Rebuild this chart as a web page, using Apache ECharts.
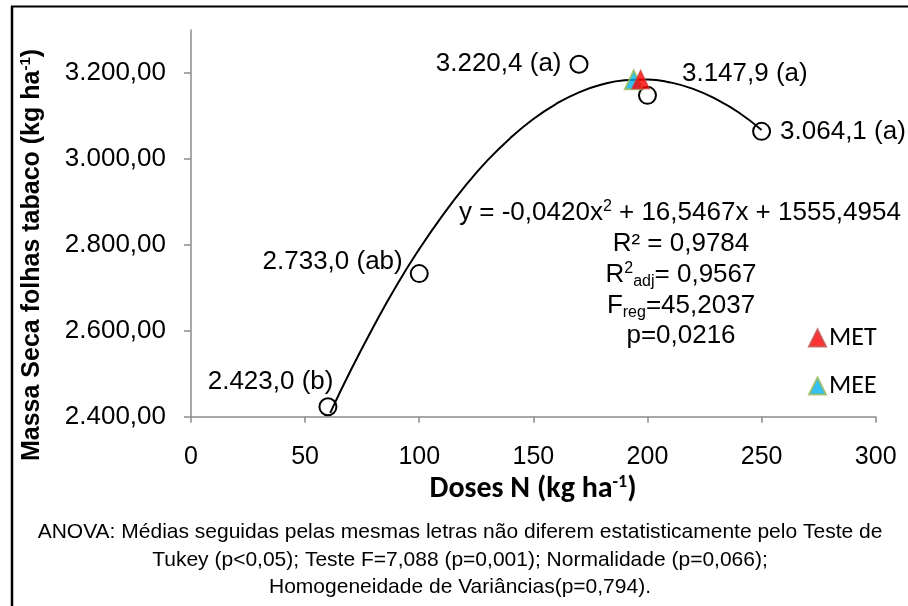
<!DOCTYPE html>
<html>
<head>
<meta charset="utf-8">
<script src="https://cdn.jsdelivr.net/npm/echarts@6/dist/echarts.min.js"></script>
<style>
  html, body { margin: 0; padding: 0; background: #fff; }
  #chart { width: 908px; height: 606px; }
</style>
</head>
<body>
<div id="chart"></div>
<script>
// ---- data ----
const doses   = [60, 100, 170, 200, 250];
const means   = [2423.0, 2733.0, 3220.4, 3147.9, 3064.1];
const letters = ['b', 'ab', 'a', 'a', 'a'];
// fitted quadratic trend curve
const fitX = [61, 70, 80, 90, 100, 110, 120, 130, 140, 150, 160, 170, 180, 190, 200, 210, 220, 230, 240, 250];
const fitY = [2409, 2508, 2610, 2705, 2790, 2867, 2936, 2997, 3049, 3093, 3128, 3155, 3173, 3183, 3185, 3178, 3163, 3139, 3108, 3067];
const metPoint = [197, 3185];
const meePoint = [194, 3184];
const xTicks = [0, 50, 100, 150, 200, 250, 300];
const yTicks = [2400, 2600, 2800, 3000, 3200];
const seriesNames = ['MET', 'MEE'];

function fmtBR(v, d) {
  const s = Math.abs(v).toFixed(d).split('.');
  const intPart = s[0].replace(/\B(?=(\d{3})+(?!\d))/g, '.');
  return (v < 0 ? '-' : '') + intPart + (d > 0 ? ',' + s[1] : '');
}

// label placement for each mean point (style, not data)
const labelPlacement = [
  { position: 'left',  offset: [20, -25] },
  { position: 'left',  offset: [-2, -12] },
  { position: 'left',  offset: [-3, 0] },
  { position: 'right', offset: [20, -22] },
  { position: 'right', offset: [4, 0] }
];

const FONT = '"Liberation Sans", Arial, sans-serif';
const CAL = 'Carlito, Lato, "Liberation Sans", sans-serif';

const meanData = doses.map((x, i) => ({
  value: [x, means[i]],
  label: {
    show: true,
    position: labelPlacement[i].position,
    offset: labelPlacement[i].offset,
    color: '#000', fontFamily: FONT, fontSize: 26, textBorderWidth: 0,
    formatter: fmtBR(means[i], 1) + ' (' + letters[i] + ')'
  }
}));

const chart = echarts.init(document.getElementById('chart'), null, { renderer: 'canvas' });

const normal = { fontFamily: FONT, fontSize: 26, color: '#000', lineHeight: 30 };
const sup = { fontFamily: FONT, fontSize: 16, color: '#000', lineHeight: 30, verticalAlign: 'top', padding: [1, 0, 0, 0] };
const sub = { fontFamily: FONT, fontSize: 16, color: '#000', lineHeight: 30, verticalAlign: 'bottom' };

function txt(x, y, text, rich, extra) {
  return {
    type: 'text', x: x, y: y, silent: true,
    style: Object.assign({
      text: text, rich: rich,
      align: 'center', verticalAlign: 'middle',
      font: '26px ' + FONT, fill: '#000'
    }, extra || {})
  };
}

const option = {
  animation: false,
  backgroundColor: '#fff',
  grid: { left: 191, right: 32.3, top: 30, bottom: 189.3, containLabel: false },
  xAxis: {
    type: 'value', min: 0, max: 300, interval: 50,
    axisLine: { show: true, lineStyle: { color: '#8c8c8c', width: 1.5 } },
    axisTick: { show: true, length: 6, lineStyle: { color: '#8c8c8c', width: 1.5 } },
    axisLabel: {
      margin: 28, fontFamily: FONT, fontSize: 25, color: '#000',
      customValues: xTicks,
      formatter: v => String(v)
    },
    splitLine: { show: false }
  },
  yAxis: {
    type: 'value', min: 2400, max: 3300, interval: 100,
    axisLine: { show: true, onZero: false, lineStyle: { color: '#8c8c8c', width: 1.5 } },
    axisTick: { show: true, length: 7, customValues: yTicks, lineStyle: { color: '#8c8c8c', width: 1.5 } },
    axisLabel: {
      margin: 25, fontFamily: FONT, fontSize: 26, color: '#000',
      customValues: yTicks,
      formatter: v => fmtBR(v, 2)
    },
    splitLine: { show: false }
  },
  legend: {
    orient: 'vertical', left: 803, top: 320,
    itemWidth: 17, itemHeight: 17, itemGap: 22,
    icon: 'triangle',
    data: seriesNames,
    textStyle: { fontFamily: CAL, fontSize: 26, color: '#000', padding: [0, 0, 0, -2] },
    selectedMode: false
  },
  series: [
    {
      name: 'fit', type: 'line', smooth: true, showSymbol: false, z: 2,
      data: fitX.map((x, i) => [x, fitY[i]]),
      lineStyle: { color: '#000', width: 2 },
      silent: true
    },
    {
      name: 'means', type: 'scatter', z: 3, symbol: 'circle', symbolSize: 17,
      data: meanData,
      itemStyle: { color: 'rgba(0,0,0,0)', borderColor: '#000', borderWidth: 2, opacity: 1 },
      label: { fontFamily: FONT, fontSize: 26, color: '#000', distance: 5 },
      silent: true
    },
    {
      name: 'MEE', type: 'scatter', z: 4, symbol: 'triangle', symbolSize: [18, 19],
      data: [meePoint],
      itemStyle: { color: '#00B0F0', borderColor: '#9BBB59', borderWidth: 2 },
      silent: true
    },
    {
      name: 'MET', type: 'scatter', z: 5, symbol: 'triangle', symbolSize: [18, 19],
      data: [metPoint],
      itemStyle: { color: '#FF0000', borderColor: '#C0504D', borderWidth: 1 },
      silent: true
    }
  ],
  graphic: [
    // frame
    { type: 'line', shape: { x1: 12, y1: 6, x2: 12, y2: 606 }, style: { stroke: '#000', lineWidth: 2.5 }, silent: true },
    { type: 'line', shape: { x1: 11, y1: 6.5, x2: 908, y2: 6.5 }, style: { stroke: '#000', lineWidth: 2 }, silent: true },
    // regression annotation
    txt(680, 213, '{n|y = -0,0420x}{s|2}{n| + 16,5467x + 1555,4954}', { n: normal, s: sup }),
    txt(681, 244, '{n|R² = 0,9784}', { n: normal }),
    txt(681, 275, '{n|R}{s|2}{b|adj}{n|= 0,9567}', { n: normal, s: sup, b: sub }),
    txt(681, 306, '{n|F}{b|reg}{n|=45,2037}', { n: normal, b: sub }),
    txt(681, 336, '{n|p=0,0216}', { n: normal }),
    // axis titles
    txt(533, 489, '{n|Doses N (kg ha}{s|-1}{n|)}', {
      n: { fontFamily: CAL, fontSize: 30, fontWeight: 'bold', color: '#000', lineHeight: 32 },
      s: { fontFamily: CAL, fontSize: 18, fontWeight: 'bold', color: '#000', lineHeight: 32, verticalAlign: 'top' }
    }),
    Object.assign(txt(32, 255, '{n|Massa Seca folhas tabaco (kg ha}{s|-1}{n|)}', {
      n: { fontFamily: FONT, fontSize: 25, fontWeight: 'bold', color: '#000', lineHeight: 28 },
      s: { fontFamily: FONT, fontSize: 15, fontWeight: 'bold', color: '#000', lineHeight: 28, verticalAlign: 'top' }
    }), { rotation: Math.PI / 2 }),
    // footnote
    txt(460, 532, 'ANOVA: Médias seguidas pelas mesmas letras não diferem estatisticamente pelo Teste de', null, { font: '21px ' + FONT }),
    txt(460, 560, 'Tukey (p<0,05); Teste F=7,088 (p=0,001); Normalidade (p=0,066);', null, { font: '21px ' + FONT }),
    txt(460, 587, 'Homogeneidade de Variâncias(p=0,794).', null, { font: '21px ' + FONT })
  ]
};

chart.setOption(option);
</script>
</body>
</html>
